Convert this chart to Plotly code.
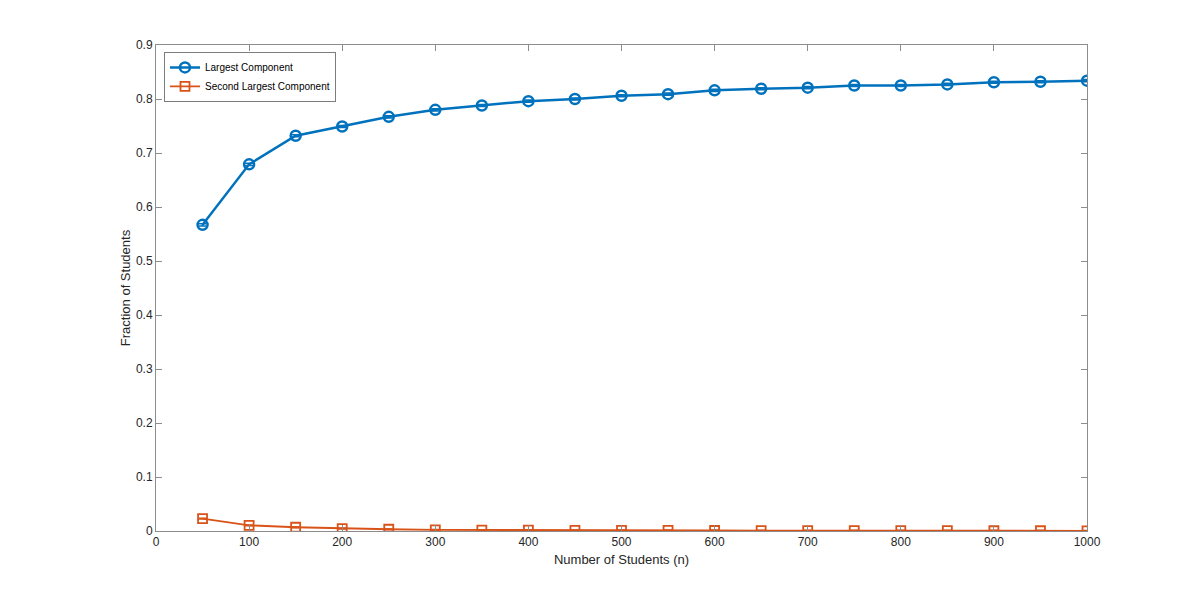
import plotly.graph_objects as go

n_students = [50, 100, 150, 200, 250, 300, 350, 400, 450, 500, 550, 600, 650, 700, 750, 800, 850, 900, 950, 1000]
largest = [0.567, 0.679, 0.732, 0.749, 0.767, 0.780, 0.788, 0.796, 0.800, 0.806, 0.809, 0.816, 0.819, 0.821, 0.825, 0.825, 0.827, 0.831, 0.832, 0.834]
second = [0.023, 0.0106, 0.0069, 0.0045, 0.0032, 0.0022, 0.0018, 0.0015, 0.0012, 0.0011, 0.0010, 0.0009, 0.0008, 0.0008, 0.0007, 0.0007, 0.0006, 0.0005, 0.0005, 0.0004]
largest_err = [0.002] * 20
second_err = [0.001] * 20

x_ticks = [0, 100, 200, 300, 400, 500, 600, 700, 800, 900, 1000]
y_ticks = [0, 0.1, 0.2, 0.3, 0.4, 0.5, 0.6, 0.7, 0.8, 0.9]

blue = "#0072BD"
orange = "#D95319"
font = "Liberation Sans, Arial, sans-serif"

fig = go.Figure()
fig.add_trace(go.Scatter(
    x=n_students, y=largest, name="Largest Component", mode="lines+markers",
    line=dict(color=blue, width=2.5),
    marker=dict(symbol="circle-open", size=10, color=blue, line=dict(width=2.5)),
    error_y=dict(type="data", array=largest_err, color=blue, thickness=1.5, width=4),
))
fig.add_trace(go.Scatter(
    x=n_students, y=second, name="Second Largest Component", mode="lines+markers",
    line=dict(color=orange, width=1.8),
    marker=dict(symbol="square-open", size=9, color=orange, line=dict(width=1.8)),
    error_y=dict(type="data", array=second_err, color=orange, thickness=1.2, width=4),
))

axis_common = dict(
    showline=True, linecolor="#8c8c8c", linewidth=1, mirror="ticks",
    ticks="inside", ticklen=6, tickcolor="#8c8c8c", showgrid=False, zeroline=False,
    tickfont=dict(family=font, size=12, color="#262626"),
)
fig.update_xaxes(range=[0, 1000], tickvals=x_ticks, ticktext=[str(v) for v in x_ticks],
                 title=dict(text="Number of Students (n)", font=dict(family=font, size=13, color="#262626"), standoff=6),
                 **axis_common)
fig.update_yaxes(range=[0, 0.9], tickvals=y_ticks, ticktext=[("0" if v == 0 else f"{v:.1f}") for v in y_ticks],
                 title=dict(text="Fraction of Students", font=dict(family=font, size=13, color="#262626"), standoff=2),
                 **axis_common)

fig.update_layout(
    width=1200, height=597,
    margin=dict(l=156, r=113, t=45, b=66),
    paper_bgcolor="white", plot_bgcolor="white",
    showlegend=True,
    legend=dict(x=0.009, y=0.985, xanchor="left", yanchor="top",
                bgcolor="white", bordercolor="#262626", borderwidth=0.6,
                font=dict(family=font, size=10, color="#000000"),
                tracegroupgap=0, itemwidth=30),
)
fig.write_html("out.html")
